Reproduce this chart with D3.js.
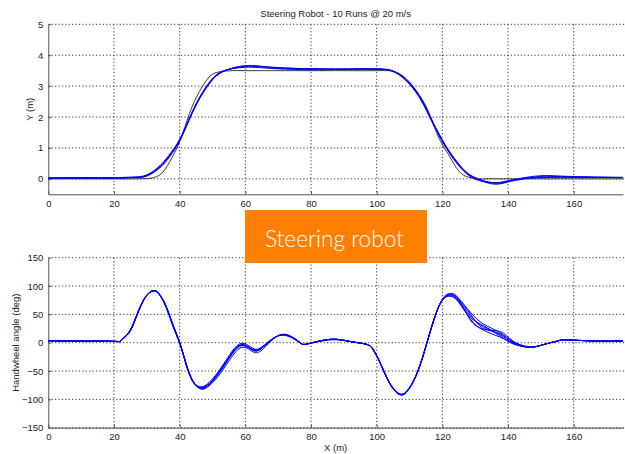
<!DOCTYPE html>
<html>
<head>
<meta charset="utf-8">
<script src="https://cdn.jsdelivr.net/npm/d3@7"></script>
<style>
  body { margin: 0; background: #fff; }
  svg { display: block; }
  .tick text { font-family: "Liberation Sans", Arial, sans-serif; font-size: 9.5px; fill: #222; }
  .axis path, .axis line { stroke: #555; }
  .grid line { stroke: #333; stroke-dasharray: 1.2, 2.2; }
</style>
</head>
<body>
<div class="chart"></div>
<script>

	/* ---------------------------------
		Data
	------------------------------------*/

	var title = "Steering Robot - 10 Runs @ 20 m/s";
	var xTicks = [0, 20, 40, 60, 80, 100, 120, 140, 160];
	var posTicks = [0, 1, 2, 3, 4, 5];
	var angTicks = [-150, -100, -50, 0, 50, 100, 150];

	// top panel: lateral position Y (m) against X (m)
	var posX = [0, 10, 20, 26, 30, 34, 37, 40, 43, 46, 49, 52, 56, 60, 64, 70, 80, 90, 100, 105,
		109, 113, 116, 119, 122, 125, 128, 131, 134, 137, 140, 144, 150, 156, 165, 175];

	// target path (thin black)
	var posRef = [0, 0, 0, 0, 0.01, 0.13, 0.56, 1.2, 2.12, 2.82, 3.3, 3.46, 3.5, 3.5, 3.5, 3.5, 3.5, 3.5, 3.5, 3.48,
		3.24, 2.71, 2.12, 1.31, 0.76, 0.25, 0.05, 0, 0, 0, 0, 0, 0, 0, 0, 0];

	var posRun1 = [0.03, 0.03, 0.03, 0.05, 0.11, 0.40, 0.77, 1.26, 1.96, 2.6, 3.09, 3.41, 3.57, 3.64, 3.63, 3.58, 3.55, 3.55, 3.55, 3.48,
		3.19, 2.66, 2.05, 1.42, 0.88, 0.45, 0.13, -0.03, -0.12, -0.14, -0.08, 0.0, 0.04, 0.05, 0.05, 0.04];
	var posRun2 = [0.02, 0.02, 0.03, 0.04, 0.09, 0.36, 0.72, 1.22, 1.93, 2.58, 3.07, 3.40, 3.58, 3.66, 3.65, 3.6, 3.56, 3.55, 3.56, 3.49,
		3.21, 2.69, 2.08, 1.45, 0.9, 0.47, 0.15, -0.02, -0.14, -0.17, -0.1, 0.02, 0.1, 0.09, 0.06, 0.05];
	var posRun3 = [0.03, 0.04, 0.04, 0.06, 0.13, 0.43, 0.8, 1.28, 1.98, 2.63, 3.12, 3.43, 3.56, 3.61, 3.6, 3.56, 3.53, 3.54, 3.54, 3.47,
		3.17, 2.63, 2.02, 1.39, 0.85, 0.42, 0.11, -0.05, -0.11, -0.12, -0.06, 0.01, 0.05, 0.06, 0.05, 0.04];
	var posRun4 = [0.02, 0.02, 0.02, 0.04, 0.1, 0.38, 0.75, 1.24, 1.94, 2.59, 3.08, 3.4, 3.58, 3.65, 3.64, 3.59, 3.56, 3.55, 3.55, 3.48,
		3.2, 2.67, 2.06, 1.44, 0.91, 0.48, 0.16, 0.0, -0.1, -0.13, -0.09, -0.02, 0.08, 0.07, 0.05, 0.04];

	// bottom panel: handwheel angle (deg) against X (m)
	var angX = [0, 10, 20, 22, 24, 26, 29, 32, 34, 36, 38, 40, 42, 44, 46.5, 49, 51.5, 54, 56.5, 59,
		61.5, 64, 67.5, 72, 76.5, 79, 86, 92, 97, 99, 101, 104, 107, 109, 111, 113, 115, 117.5, 120, 122.5,
		125, 128.5, 132.5, 137.5, 141.5, 146.5, 151, 155, 158, 166, 175];

	var angRun1 = [3.5, 3, 2.5, 3, 14, 34, 75, 92, 84, 62, 30, 0, -38, -68, -80, -73, -57, -36, -15, -4,
		-10, -13, 3, 14, 1, -2, 6, 2, -3, -13, -35, -72, -91, -87, -70, -43, -6, 42, 75, 84,
		74, 48, 28, 14, 0, -8, -3, 3, 5, 3, 3];
	var angRun2 = [3, 2.5, 2, 3, 15, 36, 76, 91, 83, 60, 28, -2, -40, -69, -78, -70, -53, -32, -11, -1,
		-7, -11, 4, 13, 0, -2, 5, 2, -3, -12, -34, -71, -90, -86, -69, -42, -5, 43, 76, 82,
		71, 42, 22, 10, -1, -8, -3, 3, 5, 3, 3];
	var angRun3 = [4, 3, 2.5, 3, 13, 33, 74, 92, 85, 63, 32, 1, -37, -67, -82, -76, -61, -41, -20, -8,
		-13, -17, 1, 15, 1, -2, 6, 2, -3, -14, -36, -73, -92, -88, -71, -44, -7, 41, 77, 87,
		78, 54, 33, 18, 2, -7, -3, 3, 5, 3, 3];
	var angRun4 = [3.5, 3, 2.5, 3, 14, 35, 75, 91, 84, 62, 30, 0, -39, -68, -81, -74, -58, -37, -16, -5,
		-11, -14, 3, 14, 1, -2, 6, 2, -3, -13, -35, -72, -91, -87, -70, -43, -6, 42, 76, 85,
		76, 51, 25, 20, 3, -8, -3, 3, 5, 3, 3];
	var angRun5 = [3, 3, 2.5, 3, 14, 34, 75, 92, 84, 62, 30, 0, -38, -67, -79, -72, -55, -34, -13, -3,
		-9, -12, 3, 14, 1, -2, 6, 2, -3, -13, -35, -72, -91, -87, -70, -43, -6, 42, 75, 82,
		72, 45, 30, 12, -2, -8, -3, 3, 5, 3, 3];
	var angRun6 = [3.5, 3, 2.5, 3, 14, 34, 75, 92, 84, 62, 30, 0, -38, -68, -80, -73, -57, -36, -15, -4,
		-10, -13, 3, 14, 1, -2, 6, 2, -3, -13, -35, -72, -91, -87, -70, -43, -6, 42, 75, 86,
		77, 40, 24, 16, 1, -8, -3, 3, 5, 3, 3];

	var posRuns = [posRun1, posRun2, posRun3, posRun4];
	var angRuns = [angRun1, angRun2, angRun3, angRun4, angRun5, angRun6];


	/* ---------------------------------
		Setup
	------------------------------------*/

	var w = 625;
	var h = 454;
	var left = 48.3, right = 623;

	var svg = d3.select(".chart")
				.append("svg")
				.attr("width", w)
				.attr("height", h);

	var xScale = d3.scaleLinear().domain([0, 175]).range([left, right]);

	function zip(xs, ys) {
		return xs.map(function(x, i) { return [x, ys[i]]; });
	}

	// draws one panel: grid, axes, runs
	function panel(top, bottom, yDomain, yTicks, yLabel, runs, xs, ref) {

		var yScale = d3.scaleLinear().domain(yDomain).range([bottom, top]);

		var g = svg.append("g");

		// grid
		g.append("g").attr("class", "grid")
			.selectAll("line.v")
			.data(xTicks.filter(function(d) { return d > 0; }))
			.enter().append("line")
				.attr("x1", function(d) { return xScale(d); })
				.attr("x2", function(d) { return xScale(d); })
				.attr("y1", top)
				.attr("y2", bottom);

		g.append("g").attr("class", "grid")
			.selectAll("line.h")
			.data(yTicks)
			.enter().append("line")
				.attr("x1", left)
				.attr("x2", right + 2)
				.attr("y1", function(d) { return yScale(d); })
				.attr("y2", function(d) { return yScale(d); });

		// axes
		var xAxis = d3.axisBottom(xScale).tickValues(xTicks).tickFormat(d3.format("d"))
			.tickSizeInner(-3).tickSizeOuter(0).tickPadding(6);
		var yAxis = d3.axisLeft(yScale).tickValues(yTicks).tickFormat(d3.format("d"))
			.tickSizeInner(-3).tickSizeOuter(0).tickPadding(5);

		g.append("g")
			.attr("class", "axis")
			.attr("transform", "translate(0," + bottom + ")")
			.call(xAxis);

		g.append("g")
			.attr("class", "axis")
			.attr("transform", "translate(" + left + ",0)")
			.call(yAxis);

		// y label
		g.append("text")
			.attr("transform", "translate(" + yLabel.x + "," + ((top + bottom) / 2) + ") rotate(-90)")
			.attr("text-anchor", "middle")
			.attr("font-family", "Liberation Sans, Arial, sans-serif")
			.attr("font-size", 9.5)
			.attr("fill", "#222")
			.text(yLabel.text);

		// smooth spline through the read points
		var line = d3.line()
			.x(function(d) { return xScale(d[0]); })
			.y(function(d) { return yScale(d[1]); })
			.curve(d3.curveNatural);

		if (ref) {
			g.append("path")
				.datum(zip(xs, ref))
				.attr("fill", "none")
				.attr("stroke", "#222")
				.attr("stroke-width", 0.9)
				.attr("d", line);
		}

		runs.forEach(function(r) {
			g.append("path")
				.datum(zip(xs, r))
				.attr("fill", "none")
				.attr("stroke", "#0000ff")
				.attr("stroke-width", 1)
				.attr("d", line);
		});

		return g;
	}

	panel(24.3, 194.3, [-0.5, 5], posTicks, { x: 33, text: "Y (m)" }, posRuns, posX, posRef);
	panel(257.7, 427.7, [-150, 150], angTicks, { x: 19, text: "Handwheel angle (deg)" }, angRuns, angX, null);

	// title
	svg.append("text")
		.attr("x", (left + right) / 2)
		.attr("y", 17)
		.attr("text-anchor", "middle")
		.attr("font-family", "Liberation Sans, Arial, sans-serif")
		.attr("font-size", 9.5)
		.attr("fill", "#222")
		.text(title);

	// x label
	svg.append("text")
		.attr("x", (left + right) / 2)
		.attr("y", 451)
		.attr("text-anchor", "middle")
		.attr("font-family", "Liberation Sans, Arial, sans-serif")
		.attr("font-size", 9.5)
		.attr("fill", "#222")
		.text("X (m)");

	// orange banner
	svg.append("rect")
		.attr("x", 245)
		.attr("y", 210)
		.attr("width", 182)
		.attr("height", 53)
		.attr("fill", "#ff8000");

	svg.append("text")
		.attr("x", 265)
		.attr("y", 247)
		.attr("font-family", "Lato, 'Open Sans', sans-serif")
		.attr("font-weight", 300)
		.attr("font-size", 23)
		.attr("fill", "#fff")
		.attr("textLength", 139)
		.attr("lengthAdjust", "spacingAndGlyphs")
		.text("Steering robot");

</script>
</body>
</html>
